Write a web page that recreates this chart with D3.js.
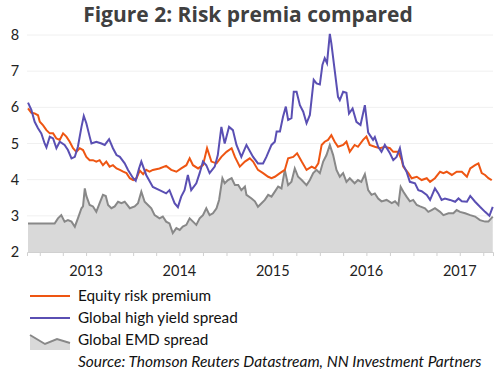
<!DOCTYPE html>
<html>
<head>
<meta charset="utf-8">
<script src="https://cdn.jsdelivr.net/npm/d3@7"></script>
<style>
    body { margin: 0; background: #fff; }
    #chart { width: 500px; height: 375px; }
    .axisText { font-family: Lato, "Open Sans", sans-serif; font-size: 14.5px; fill: #222; }
    .legendText { font-family: Lato, "Open Sans", sans-serif; font-size: 15.3px; fill: #111; }
</style>
</head>
<body>
<div id="chart"></div>
<script>
// Weekly-ish readings, [date, value]
const equityPremium = [
    ["2012-11-16",5.97],["2012-11-29",5.85],["2012-12-12",5.83],["2012-12-25",5.78],["2013-01-01",5.6],
    ["2013-01-14",5.5],["2013-01-27",5.37],["2013-02-09",5.28],["2013-02-22",5.28],["2013-03-07",5.14],
    ["2013-03-20",5.1],["2013-04-02",5.28],["2013-04-15",5.19],["2013-04-28",5.05],["2013-05-11",4.87],
    ["2013-05-24",4.77],["2013-06-06",4.87],["2013-06-19",4.82],["2013-07-02",4.63],["2013-07-15",4.54],
    ["2013-07-28",4.54],["2013-08-10",4.5],["2013-08-23",4.54],["2013-09-05",4.4],["2013-09-18",4.5],
    ["2013-10-01",4.36],["2013-10-14",4.4],["2013-10-28",4.31],["2013-11-10",4.27],["2013-11-23",4.22],
    ["2013-12-06",4.18],["2013-12-19",4.04],["2014-01-01",3.99],["2014-01-14",4.04],["2014-01-27",4.25],
    ["2014-02-09",4.15],["2014-02-21",4.27],["2014-03-06",4.22],["2014-03-19",4.27],["2014-04-14",4.31],
    ["2014-05-10",4.38],["2014-05-30",4.27],["2014-06-19",4.22],["2014-07-08",4.31],["2014-07-28",4.4],
    ["2014-08-10",4.59],["2014-08-23",4.4],["2014-09-12",4.31],["2014-10-01",4.4],["2014-10-17",4.87],
    ["2014-11-03",4.5],["2014-11-23",4.45],["2014-12-12",4.63],["2015-01-01",4.77],["2015-01-21",4.87],
    ["2015-02-03",4.63],["2015-02-22",4.36],["2015-03-14",4.5],["2015-04-02",4.59],["2015-04-15",4.5],
    ["2015-05-04",4.27],["2015-05-24",4.18],["2015-06-13",4.08],["2015-06-26",4.04],["2015-07-09",4.08],
    ["2015-07-29",4.18],["2015-08-17",4.27],["2015-08-30",4.59],["2015-09-19",4.63],["2015-10-04",4.73],
    ["2015-10-22",4.5],["2015-11-10",4.27],["2015-11-30",4.36],["2015-12-13",4.31],["2015-12-26",4.45],
    ["2016-01-08",4.96],["2016-01-20",5.05],["2016-02-02",5.1],["2016-02-15",5.23],["2016-02-28",5.05],
    ["2016-03-12",4.91],["2016-04-01",4.96],["2016-04-14",5.05],["2016-04-27",4.77],["2016-05-16",4.96],
    ["2016-05-29",4.91],["2016-06-18",5.1],["2016-07-01",5.19],["2016-07-14",4.96],["2016-08-03",4.91],
    ["2016-08-23",4.87],["2016-09-11",4.91],["2016-10-01",4.87],["2016-10-14",4.77],["2016-11-03",4.77],
    ["2016-11-16",4.54],["2016-11-22",4.36],["2016-12-12",4.18],["2016-12-25",4.04],["2017-01-14",4.08],
    ["2017-02-02",3.99],["2017-02-22",4.04],["2017-03-07",3.94],["2017-03-26",4.04],["2017-04-15",4.22],
    ["2017-04-28",4.18],["2017-05-11",4.22],["2017-05-31",4.13],["2017-06-19",4.22],["2017-07-09",4.22],
    ["2017-07-29",4.08],["2017-08-11",4.31],["2017-08-30",4.4],["2017-09-12",4.45],["2017-09-25",4.18],
    ["2017-10-08",4.13],["2017-10-21",4.04],["2017-11-03",3.99]
];

const highYield = [
    ["2012-11-16",6.13],["2012-11-29",5.93],["2012-12-12",5.6],["2012-12-25",5.42],["2013-01-07",5.28],
    ["2013-01-20",5.0],["2013-01-27",4.89],["2013-02-09",5.19],["2013-02-22",5.14],["2013-03-07",4.87],
    ["2013-03-20",5.05],["2013-04-08",4.96],["2013-04-21",4.82],["2013-05-05",4.59],["2013-05-18",4.63],
    ["2013-05-30",4.91],["2013-06-13",5.46],["2013-06-22",5.76],["2013-07-02",5.56],["2013-07-15",5.19],
    ["2013-07-22",5.0],["2013-08-10",5.05],["2013-08-30",5.0],["2013-09-12",4.96],["2013-09-29",5.12],
    ["2013-10-14",4.87],["2013-10-28",4.68],["2013-11-10",4.63],["2013-11-29",4.45],["2013-12-12",4.27],
    ["2014-01-01",4.04],["2014-01-11",3.97],["2014-01-24",4.31],["2014-02-02",4.5],["2014-02-21",4.13],
    ["2014-03-19",3.8],["2014-04-14",3.71],["2014-05-10",3.62],["2014-05-23",3.71],["2014-06-12",3.35],
    ["2014-06-25",3.24],["2014-07-08",3.53],["2014-07-21",3.71],["2014-08-03",4.13],["2014-08-16",3.71],
    ["2014-09-05",3.9],["2014-09-18",4.18],["2014-10-01",4.5],["2014-10-14",4.4],["2014-10-27",4.18],
    ["2014-11-16",4.36],["2014-11-28",4.68],["2014-12-12",5.46],["2014-12-25",5.0],["2015-01-11",5.46],
    ["2015-01-26",5.37],["2015-02-09",4.96],["2015-02-28",4.63],["2015-03-20",4.96],["2015-04-15",4.63],
    ["2015-05-04",4.45],["2015-05-24",4.45],["2015-06-06",4.63],["2015-06-26",4.96],["2015-07-09",5.05],
    ["2015-07-16",5.33],["2015-07-29",5.33],["2015-08-10",5.74],["2015-08-21",6.02],["2015-08-30",5.65],
    ["2015-09-12",5.7],["2015-09-21",6.43],["2015-10-02",6.43],["2015-10-15",6.06],["2015-10-28",5.88],
    ["2015-11-10",5.56],["2015-11-23",5.79],["2015-12-08",6.76],["2015-12-19",6.66],["2016-01-01",6.63],
    ["2016-01-11",7.17],["2016-01-20",7.36],["2016-01-29",7.22],["2016-02-09",8.03],["2016-02-15",7.77],
    ["2016-02-28",7.03],["2016-03-12",6.29],["2016-03-19",6.2],["2016-04-01",6.43],["2016-04-14",6.4],
    ["2016-04-24",5.83],["2016-05-08",5.97],["2016-05-23",5.6],["2016-06-08",5.51],["2016-06-25",6.06],
    ["2016-07-08",5.3],["2016-07-27",5.1],["2016-08-03",5.18],["2016-08-16",4.91],["2016-08-29",4.77],
    ["2016-09-11",4.96],["2016-10-01",4.73],["2016-10-14",4.54],["2016-10-27",4.63],["2016-11-09",4.87],
    ["2016-11-22",4.4],["2016-12-05",4.22],["2016-12-18",3.94],["2017-01-07",3.9],["2017-01-20",3.71],
    ["2017-02-02",3.68],["2017-02-22",3.58],["2017-03-07",3.44],["2017-03-26",3.76],["2017-04-08",3.62],
    ["2017-04-21",3.44],["2017-05-04",3.48],["2017-05-24",3.44],["2017-06-13",3.39],["2017-06-26",3.48],
    ["2017-07-09",3.4],["2017-07-29",3.39],["2017-08-11",3.55],["2017-08-30",3.39],["2017-09-18",3.25],
    ["2017-10-08",3.11],["2017-10-25",3.0],["2017-11-07",3.25]
];

const emdSpread = [
    ["2012-11-16",2.79],["2013-02-28",2.79],["2013-03-13",2.93],["2013-03-26",3.02],["2013-04-08",2.84],
    ["2013-04-21",2.88],["2013-05-05",2.84],["2013-05-18",2.7],["2013-05-30",2.93],["2013-06-13",3.21],
    ["2013-06-19",3.26],["2013-06-26",3.76],["2013-07-02",3.55],["2013-07-15",3.3],["2013-07-28",3.26],
    ["2013-08-10",3.11],["2013-08-23",3.35],["2013-09-05",3.58],["2013-09-16",3.55],["2013-09-25",3.3],
    ["2013-10-08",3.21],["2013-10-21",3.26],["2013-11-03",3.39],["2013-11-16",3.35],["2013-11-29",3.39],
    ["2013-12-19",3.21],["2014-01-07",3.26],["2014-01-20",3.35],["2014-02-02",3.67],["2014-02-15",3.39],
    ["2014-02-28",3.3],["2014-03-13",3.21],["2014-03-26",3.02],["2014-04-14",2.93],["2014-04-27",2.98],
    ["2014-05-10",2.84],["2014-05-23",2.79],["2014-06-05",2.52],["2014-06-19",2.66],["2014-07-02",2.61],
    ["2014-07-14",2.7],["2014-07-28",2.75],["2014-08-10",2.93],["2014-08-23",2.84],["2014-09-05",2.75],
    ["2014-09-18",2.93],["2014-10-01",3.02],["2014-10-14",3.21],["2014-10-27",3.02],["2014-11-09",3.07],
    ["2014-11-23",3.21],["2014-12-03",3.44],["2014-12-16",4.04],["2014-12-25",3.9],["2015-01-07",3.99],
    ["2015-01-21",4.04],["2015-02-03",3.85],["2015-02-16",3.85],["2015-02-28",3.71],["2015-03-14",3.81],
    ["2015-03-20",3.58],["2015-04-09",3.48],["2015-04-22",3.4],["2015-05-04",3.25],["2015-05-18",3.35],
    ["2015-05-31",3.44],["2015-06-13",3.58],["2015-06-26",3.53],["2015-07-09",3.67],["2015-07-22",3.81],
    ["2015-08-04",3.76],["2015-08-17",4.27],["2015-08-30",3.85],["2015-09-12",3.94],["2015-09-25",4.31],
    ["2015-10-08",4.08],["2015-10-22",3.99],["2015-11-10",3.85],["2015-11-23",3.99],["2015-12-06",4.18],
    ["2015-12-19",4.27],["2016-01-01",4.18],["2016-01-14",4.5],["2016-01-27",4.68],["2016-02-09",4.96],
    ["2016-02-22",4.68],["2016-03-06",4.27],["2016-03-19",4.08],["2016-04-01",4.18],["2016-04-14",3.94],
    ["2016-04-27",4.04],["2016-05-16",3.9],["2016-05-29",3.99],["2016-06-11",3.94],["2016-06-25",4.15],
    ["2016-07-08",3.71],["2016-07-21",3.58],["2016-08-03",3.62],["2016-08-16",3.48],["2016-08-29",3.4],
    ["2016-09-18",3.44],["2016-10-08",3.35],["2016-10-21",3.4],["2016-11-03",3.3],["2016-11-12",3.8],
    ["2016-11-22",3.67],["2016-12-05",3.53],["2016-12-18",3.4],["2016-12-31",3.44],["2017-01-14",3.3],
    ["2017-01-27",3.26],["2017-02-15",3.21],["2017-02-28",3.11],["2017-03-13",3.16],["2017-03-26",3.21],
    ["2017-04-15",3.11],["2017-04-28",3.02],["2017-05-18",3.07],["2017-06-06",3.07],["2017-06-19",3.16],
    ["2017-07-02",3.11],["2017-07-22",3.07],["2017-08-11",3.02],["2017-08-30",2.98],["2017-09-18",2.88],
    ["2017-10-08",2.84],["2017-10-21",2.84],["2017-11-07",2.98]
];

const yTicks = [2, 3, 4, 5, 6, 7, 8];
const yearLabels = ["2013", "2014", "2015", "2016", "2017"];
const seriesNames = ["Equity risk premium", "Global high yield spread", "Global EMD spread"];
const colors = ["#ee5512", "#5a4fb3", "#888888"];

const parse = d3.timeParse("%Y-%m-%d");

let svg = d3.select("#chart").append("svg")
    .attr("width", 500)
    .attr("height", 375);

// plot area
let margin = {left: 27, right: 7, top: 35, plotH: 217};

let x = d3.scaleTime()
    .domain([parse("2012-11-12"), parse("2017-11-08")])
    .range([margin.left, 500 - margin.right]);

let y = d3.scaleLinear()
    .domain([2, 8])
    .range([margin.top + margin.plotH, margin.top]);

// title
svg.append("text")
    .attr("x", 248).attr("y", 22)
    .attr("text-anchor", "middle")
    .style("font-family", "'Open Sans', sans-serif")
    .style("font-weight", "bold")
    .style("font-size", "21px")
    .style("fill", "#404040")
    .text("Figure 2: Risk premia compared");

// gridlines
svg.append("g")
    .selectAll("line")
    .data(yTicks.slice(1))
    .enter().append("line")
    .attr("x1", margin.left).attr("x2", 500 - margin.right)
    .attr("y1", d => y(d)).attr("y2", d => y(d))
    .attr("stroke", "#f0f0f0").attr("stroke-width", 1);

// EMD area + line
let area = d3.area()
    .x(d => x(parse(d[0])))
    .y0(y(2))
    .y1(d => y(d[1]));

let line = d3.line()
    .x(d => x(parse(d[0])))
    .y(d => y(d[1]));

svg.append("path")
    .datum(emdSpread)
    .attr("d", area)
    .attr("fill", "#d9d9d9");

svg.append("path")
    .datum(emdSpread)
    .attr("d", line)
    .attr("fill", "none")
    .attr("stroke", colors[2])
    .attr("stroke-width", 2);

svg.append("path")
    .datum(equityPremium)
    .attr("d", line)
    .attr("fill", "none")
    .attr("stroke", colors[0])
    .attr("stroke-width", 2);

svg.append("path")
    .datum(highYield)
    .attr("d", line)
    .attr("fill", "none")
    .attr("stroke", colors[1])
    .attr("stroke-width", 2);

// axes
let xAxis = d3.axisBottom(x)
    .ticks(d3.timeMonth.every(3))
    .tickSize(4)
    .tickFormat("");

let gx = svg.append("g")
    .attr("transform", "translate(0," + y(2) + ")")
    .call(xAxis);
gx.select(".domain").attr("stroke", "#d0d0d0");
gx.selectAll(".tick line").attr("stroke", "#d0d0d0");

svg.append("g")
    .selectAll("text")
    .data(yearLabels)
    .enter().append("text")
    .attr("class", "axisText")
    .attr("x", d => x(parse(d + "-07-01")))
    .attr("y", y(2) + 24)
    .attr("text-anchor", "middle")
    .text(d => d);

let yAxis = d3.axisLeft(y)
    .tickValues(yTicks)
    .tickFormat(d3.format("d"))
    .tickSize(0);

let gy = svg.append("g")
    .attr("transform", "translate(" + margin.left + ",0)")
    .call(yAxis);
gy.select(".domain").remove();
gy.selectAll("text")
    .attr("class", "axisText")
    .attr("text-anchor", "middle")
    .attr("x", -12)
    .style("font-size", "14.5px");

// legend
let legend = svg.append("g").attr("transform", "translate(30,296)");

[0, 1].forEach(i => {
    legend.append("line")
        .attr("x1", 0).attr("x2", 40)
        .attr("y1", i * 22).attr("y2", i * 22)
        .attr("stroke", colors[i]).attr("stroke-width", 2);
});

// little area icon for EMD
let icon = [[0, 39], [15, 48], [27, 43], [40, 47]];
legend.append("path")
    .attr("d", d3.area().x(d => d[0]).y0(54).y1(d => d[1])(icon))
    .attr("fill", "#d9d9d9");
legend.append("path")
    .attr("d", d3.line()(icon))
    .attr("fill", "none")
    .attr("stroke", colors[2]).attr("stroke-width", 2);

legend.selectAll(".legendText")
    .data(seriesNames)
    .enter().append("text")
    .attr("class", "legendText")
    .attr("x", 48)
    .attr("y", (d, i) => i * 22 + 5)
    .text(d => d);

legend.append("text")
    .attr("class", "legendText")
    .attr("x", 48).attr("y", 71)
    .style("font-style", "italic")
    .style("font-size", "15.5px")
    .text("Source: Thomson Reuters Datastream, NN Investment Partners");
</script>
</body>
</html>
